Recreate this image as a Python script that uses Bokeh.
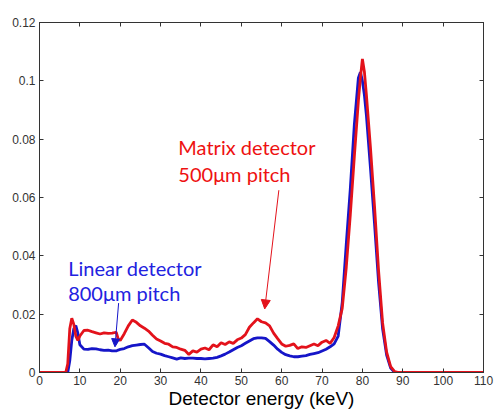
from bokeh.plotting import figure
from bokeh.models import (LinearAxis, FixedTicker, Range1d, Label, Arrow, NormalHead,
                          CustomJSTickFormatter)
from bokeh.embed import file_html
from bokeh.resources import INLINE

# ---- data ----
energy_kev = [0, 6.5, 7, 7.5, 8, 8.5, 9, 9.5, 10, 11, 12, 13, 14, 15, 16, 17, 18, 19, 19.5, 20,
              21, 22, 23, 24, 25, 26, 27, 28, 29, 30, 31, 32, 33, 34, 35, 36, 37, 38, 39, 40,
              41, 42, 43, 44, 45, 46, 47, 48, 49, 50, 51, 52, 53, 54, 55, 56, 57, 58, 59, 60,
              61, 62, 63, 64, 65, 66, 67, 68, 69, 70, 71, 72, 73, 74, 75, 76, 77, 78, 79, 79.5,
              80, 80.5, 81, 82, 83, 84, 85, 86, 87, 88, 89, 110]

matrix_500um = [0, 0, 0.003, 0.015, 0.0186, 0.0165, 0.0125, 0.011, 0.0125, 0.0144, 0.0145, 0.014,
                0.0136, 0.0132, 0.0136, 0.0134, 0.0135, 0.0138, 0.0115, 0.011,
                0.0133, 0.016, 0.018, 0.0172, 0.016, 0.0152, 0.0142, 0.0128, 0.0115, 0.0108,
                0.0100, 0.0097, 0.0088, 0.0086, 0.0080, 0.0076, 0.0062, 0.0074, 0.0070, 0.0080,
                0.0084, 0.0078, 0.0095, 0.0088, 0.0102, 0.0096, 0.0105, 0.0100, 0.0112, 0.0118,
                0.0130, 0.0155, 0.0170, 0.0184, 0.0174, 0.0170, 0.0160, 0.0135, 0.0116, 0.0098,
                0.0090, 0.0093, 0.0098, 0.0082, 0.0088, 0.0086, 0.0092, 0.0098, 0.0092, 0.0104,
                0.0110, 0.0100, 0.0120, 0.0160, 0.022, 0.036, 0.054, 0.074, 0.093, 0.101,
                0.1075, 0.103, 0.095, 0.077, 0.057, 0.035, 0.017, 0.007, 0.002, 0.0003, 0, 0]

linear_800um = [0, 0, 0, 0.004, 0.011, 0.015, 0.0161, 0.0135, 0.0095, 0.0080, 0.0079, 0.0082,
                0.0081, 0.0078, 0.0076, 0.0077, 0.0074, 0.0074, 0.0077, 0.0079,
                0.0082, 0.0088, 0.0092, 0.0094, 0.0096, 0.0097, 0.0085, 0.0072, 0.0066, 0.0063,
                0.0058, 0.0054, 0.0050, 0.0046, 0.0050, 0.0048, 0.0049, 0.0049, 0.0048, 0.0048,
                0.0047, 0.0048, 0.0049, 0.0052, 0.0057, 0.0063, 0.0070, 0.0078, 0.0086, 0.0092,
                0.0100, 0.0108, 0.0116, 0.0119, 0.0119, 0.0117, 0.0106, 0.0094, 0.0080, 0.0069,
                0.0061, 0.0057, 0.0054, 0.0054, 0.0056, 0.0058, 0.0062, 0.0065, 0.0068, 0.0074,
                0.0080, 0.0088, 0.0098, 0.0125, 0.024, 0.044, 0.063, 0.085, 0.101, 0.103,
                0.100, 0.095, 0.088, 0.070, 0.051, 0.031, 0.015, 0.006, 0.0015, 0, 0, 0]

x_ticks = [0, 10, 20, 30, 40, 50, 60, 70, 80, 90, 100, 110]
y_ticks = [0, 0.02, 0.04, 0.06, 0.08, 0.1, 0.12]
y_tick_labels = ["0", "0.02", "0.04", "0.06", "0.08", "0.1", "0.12"]

x_title = "Detector energy (keV)"
matrix_text = ["Matrix detector", "500\u03bcm pitch"]
linear_text = ["Linear detector", "800\u03bcm pitch"]

RED = "#e3121b"
BLUE = "#1515c8"
TXT_RED = "#ee1111"
TXT_BLUE = "#2222e0"

p = figure(width=494, height=411, output_backend="svg", toolbar_location=None,
           x_range=Range1d(0, 110), y_range=Range1d(0, 0.12),
           min_border_left=39, min_border_right=11, min_border_top=22, min_border_bottom=39,
           background_fill_color="white", border_fill_color="white",
           x_axis_label=x_title)
p.grid.visible = False
p.outline_line_color = "#333333"

p.line(energy_kev, linear_800um, line_color=BLUE, line_width=2.8)
p.line(energy_kev, matrix_500um, line_color=RED, line_width=2.8)

tick_font = "Liberation Sans"

def style_axis(ax):
    ax.axis_line_color = "#333333"
    ax.major_tick_line_color = "#333333"
    ax.major_tick_in = 4
    ax.major_tick_out = 0
    ax.minor_tick_line_color = None
    ax.major_label_text_font = tick_font
    ax.major_label_text_font_size = "12px"
    ax.major_label_text_color = "#333333"
    ax.major_label_standoff = 4

xa = p.xaxis[0]
xa.ticker = FixedTicker(ticks=x_ticks)
style_axis(xa)
xa.major_label_standoff = 3
xa.axis_label_text_font = "Liberation Sans"
xa.axis_label_text_font_size = "19px"
xa.axis_label_text_font_style = "normal"
xa.axis_label_text_color = "black"
xa.axis_label_standoff = 0

ya = p.yaxis[0]
ya.ticker = FixedTicker(ticks=y_ticks)
ya.major_label_overrides = {v: l for v, l in zip(y_ticks, y_tick_labels)}
style_axis(ya)

blank = CustomJSTickFormatter(code="return '';")
top = LinearAxis(ticker=FixedTicker(ticks=x_ticks), formatter=blank)
style_axis(top)
top.major_label_standoff = 0
p.add_layout(top, "above")
right = LinearAxis(ticker=FixedTicker(ticks=y_ticks), formatter=blank)
style_axis(right)
right.major_label_standoff = 0
p.add_layout(right, "right")

# annotations
label_font = "Lato"
for i, t in enumerate(matrix_text):
    p.add_layout(Label(x=34.4, y=[0.0772, 0.0680][i], text=t, text_font=label_font,
                       text_font_size="20px", text_color=TXT_RED, text_baseline="alphabetic"))
for i, t in enumerate(linear_text):
    p.add_layout(Label(x=7.1, y=[0.0360, 0.0271][i], text=t, text_font=label_font,
                       text_font_size="20px", text_color=TXT_BLUE, text_baseline="alphabetic"))

p.add_layout(Arrow(end=NormalHead(size=9, fill_color=RED, line_color=RED),
                   x_start=59.3, y_start=0.0625, x_end=55.8, y_end=0.0218,
                   line_color=RED, line_width=1))
p.add_layout(Arrow(end=NormalHead(size=8, fill_color=BLUE, line_color=BLUE),
                   x_start=19.6, y_start=0.0238, x_end=18.7, y_end=0.0088,
                   line_color=BLUE, line_width=1))

open("out.html", "w").write(file_html(p, INLINE))
